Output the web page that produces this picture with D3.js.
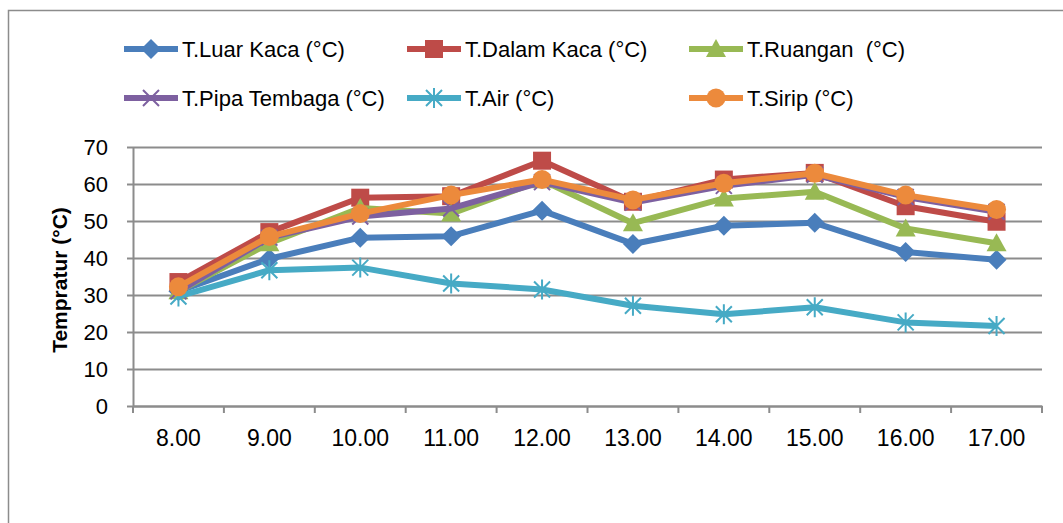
<!DOCTYPE html>
<html>
<head>
<meta charset="utf-8">
<script src="https://cdn.jsdelivr.net/npm/d3@7"></script>
<style>
body { margin:0; background:#fff; }
svg { display:block; font-family:"Liberation Sans", Arial, sans-serif; }
</style>
</head>
<body>
<script>
// categories (hour of day)
const hours = ["8.00","9.00","10.00","11.00","12.00","13.00","14.00","15.00","16.00","17.00"];

// temperature series (°C)
const luarKaca   = [31, 39.8, 45.5, 45.9, 52.8, 43.8, 48.7, 49.5, 41.6, 39.5];
const dalamKaca  = [33.5, 47, 56.3, 56.7, 66.3, 55.2, 61.2, 63, 54, 49.8];
const ruangan    = [31, 44, 53.5, 52, 61, 49.4, 56.1, 57.9, 48, 44];
const pipa       = [31, 45.5, 51.2, 53.4, 60.5, 55, 59.5, 62.5, 56.5, 52.5];
const air        = [29.6, 36.7, 37.4, 33.1, 31.5, 27.1, 24.8, 26.7, 22.6, 21.6];
const sirip      = [32.2, 45.8, 52, 57, 61.2, 55.7, 60.2, 62.9, 57, 53.1];

const seriesNames = ["T.Luar Kaca (°C)","T.Dalam Kaca (°C)","T.Ruangan  (°C)","T.Pipa Tembaga (°C)","T.Air (°C)","T.Sirip (°C)"];
const seriesValues = [luarKaca, dalamKaca, ruangan, pipa, air, sirip];
const colors = ["#4A7EBB","#BE4B48","#98B954","#7D60A0","#46AAC5","#EC8A3C"];
const markers = ["diamond","square","triangle","x","asterisk","circle"];
const yTicks = [0,10,20,30,40,50,60,70];

const width = 1063, height = 523;
const margin = {top:147, right:21, bottom:117, left:133};

const svg = d3.select("body").append("svg")
  .attr("width", width)
  .attr("height", height);

// outer chart border (runs off the picture on right and bottom)
svg.append("rect")
  .attr("x", 8.5).attr("y", 10.5)
  .attr("width", 1200).attr("height", 700)
  .attr("fill", "none")
  .attr("stroke", "#8c8c8c")
  .attr("stroke-width", 1.5);

const x = d3.scaleBand()
  .domain(hours)
  .range([margin.left, width - margin.right]);

const y = d3.scaleLinear()
  .domain([0,70])
  .range([height - margin.bottom, margin.top]);

// gridlines
svg.append("g")
  .attr("transform","translate("+margin.left+",0)")
  .call(d3.axisLeft(y).tickValues(yTicks).tickSize(-(width - margin.right - margin.left)).tickFormat(""))
  .call(g => g.select(".domain").remove())
  .call(g => g.selectAll("line").attr("stroke","#8c8c8c").attr("stroke-width",2));

// y axis
const yAxis = svg.append("g")
  .attr("transform","translate("+margin.left+",0)")
  .call(d3.axisLeft(y).tickValues(yTicks).tickSize(6).tickPadding(19).tickSizeOuter(0));
yAxis.select(".domain").attr("stroke","#8c8c8c").attr("stroke-width",2);
yAxis.selectAll("line").attr("stroke","#8c8c8c").attr("stroke-width",2);
yAxis.selectAll("text").attr("font-size","22px").attr("fill","#000")
  .attr("font-family","Liberation Sans, Arial, sans-serif");

// x axis
const xAxis = svg.append("g")
  .attr("transform","translate(0,"+(height - margin.bottom)+")")
  .call(d3.axisBottom(x).tickSize(0).tickPadding(24).tickSizeOuter(0));
xAxis.select(".domain").attr("stroke","#8c8c8c").attr("stroke-width",2);
xAxis.selectAll("text").attr("font-size","23px").attr("fill","#000")
  .attr("font-family","Liberation Sans, Arial, sans-serif");

// x tick marks at category boundaries
const bounds = hours.map(h => x(h)).concat([x.range()[1]]);
xAxis.selectAll("line.bound")
  .data(bounds)
  .enter()
  .append("line")
  .attr("class","bound")
  .attr("x1", d => d).attr("x2", d => d)
  .attr("y1", 0).attr("y2", 7)
  .attr("stroke","#8c8c8c").attr("stroke-width",2);

// y label
svg.append("text")
  .attr("transform","rotate(-90)")
  .attr("x", -280)
  .attr("y", 67)
  .attr("text-anchor","middle")
  .attr("font-weight","bold")
  .attr("font-size","21px")
  .text("Tempratur (°C)");

function drawMarker(g, type, color) {
  if (type === "diamond") {
    g.append("path").attr("d","M0,-10L10,0L0,10L-10,0Z").attr("fill",color);
  } else if (type === "square") {
    g.append("rect").attr("x",-9).attr("y",-9).attr("width",18).attr("height",18).attr("fill",color);
  } else if (type === "triangle") {
    g.append("path").attr("d","M0,-10L10,8L-10,8Z").attr("fill",color);
  } else if (type === "circle") {
    g.append("circle").attr("r",9.5).attr("fill",color);
  } else if (type === "x") {
    g.append("path").attr("d","M-8,-8L8,8M-8,8L8,-8").attr("stroke",color).attr("stroke-width",2);
  } else if (type === "asterisk") {
    g.append("path").attr("d","M-8,-8L8,8M-8,8L8,-8M0,-10L0,10").attr("stroke",color).attr("stroke-width",2);
  }
}

const line = d3.line()
  .x((d,i) => x(hours[i]) + x.bandwidth()/2)
  .y(d => y(d));

seriesValues.forEach(function(vals, s) {
  svg.append("path")
    .datum(vals)
    .attr("d", line)
    .attr("fill","none")
    .attr("stroke", colors[s])
    .attr("stroke-width", 6)
    .attr("stroke-linejoin","round");

  vals.forEach(function(v, i) {
    const g = svg.append("g")
      .attr("transform","translate("+(x(hours[i]) + x.bandwidth()/2)+","+y(v)+")");
    drawMarker(g, markers[s], colors[s]);
  });
});

// legend
const legendPos = [[124,49],[407,49],[689,49],[124,98],[407,98],[689,98]];
seriesNames.forEach(function(name, s) {
  const lg = svg.append("g")
    .attr("transform","translate("+legendPos[s][0]+","+legendPos[s][1]+")");
  lg.append("line")
    .attr("x1",0).attr("x2",54)
    .attr("stroke",colors[s]).attr("stroke-width",6);
  const m = lg.append("g").attr("transform","translate(27,0)");
  drawMarker(m, markers[s], colors[s]);
  lg.append("text")
    .attr("x",58)
    .attr("dy","0.35em")
    .attr("font-size","22px")
    .style("white-space","pre")
    .text(name);
});
</script>
</body>
</html>
